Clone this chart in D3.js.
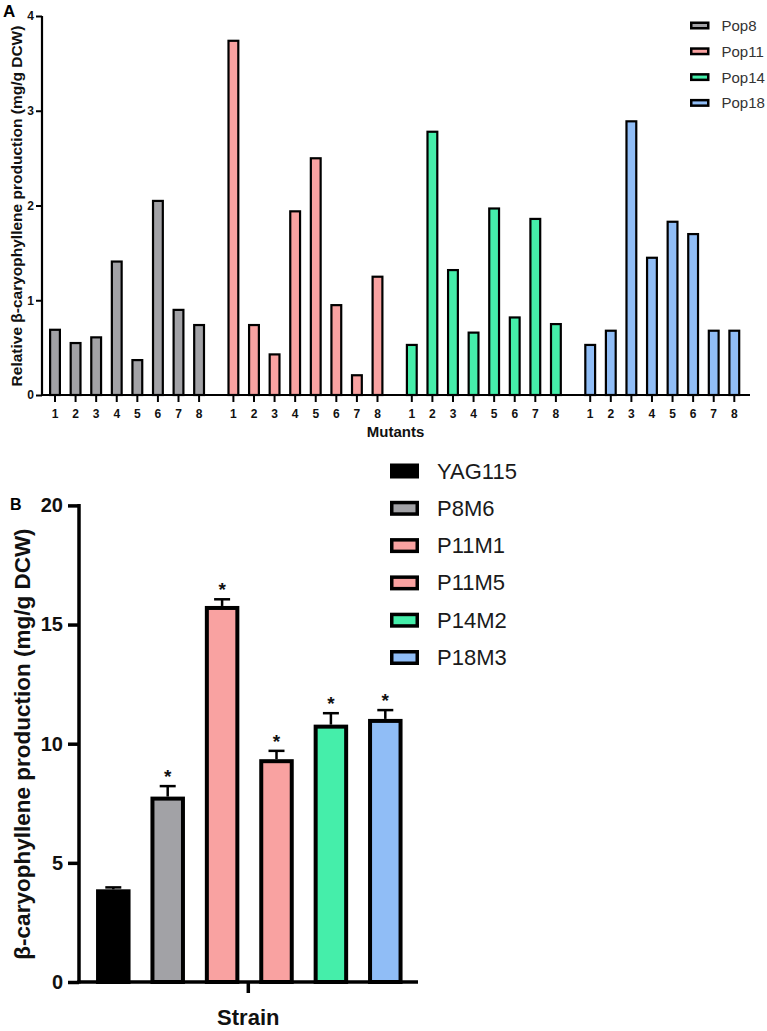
<!DOCTYPE html>
<html>
<head>
<meta charset="utf-8">
<script src="https://cdn.jsdelivr.net/npm/d3@7"></script>
<style>
  html, body { margin: 0; padding: 0; background: #fff; }
  svg { display: block; }
  text { font-family: "Liberation Sans", Arial, Helvetica, sans-serif; }
</style>
</head>
<body>
<svg id="chart" width="767" height="1031"></svg>
<script>
// ---------- Panel A data ----------
const mutantLabels = ["1", "2", "3", "4", "5", "6", "7", "8"];
const populations = ["Pop8", "Pop11", "Pop14", "Pop18"];
const pop8 = [0.70, 0.56, 0.62, 1.42, 0.38, 2.06, 0.91, 0.75];
const pop11 = [3.75, 0.75, 0.44, 1.95, 2.51, 0.96, 0.22, 1.26];
const pop14 = [0.54, 2.79, 1.33, 0.67, 1.98, 0.83, 1.87, 0.76];
const pop18 = [0.54, 0.69, 2.90, 1.46, 1.84, 1.71, 0.69, 0.69];
const popColors = ["#a2a2a6", "#f9a2a1", "#45eeaa", "#90bdf6"];
const yTicksA = [0, 1, 2, 3, 4];

// ---------- Panel B data ----------
const strains = ["YAG115", "P8M6", "P11M1", "P11M5", "P14M2", "P18M3"];
const strainMeans = [3.89, 7.78, 15.78, 9.35, 10.80, 11.04];
const strainErrors = [0.08, 0.44, 0.28, 0.35, 0.48, 0.37];
const strainSignif = ["", "*", "*", "*", "*", "*"];
const strainColors = ["#000000", "#a2a2a6", "#f9a2a1", "#f9a2a1", "#45eeaa", "#90bdf6"];
const yTicksB = [0, 5, 10, 15, 20];

const svg = d3.select("#chart");
svg.append("rect").attr("width", 767).attr("height", 1031).attr("fill", "#fff");

// ================= PANEL A =================
const seriesA = [pop8, pop11, pop14, pop18];
const groupGap = 0.667;
const slotOf = (g, i) => g * (mutantLabels.length + groupGap) + i;
const xA = d3.scaleLinear().domain([0, slotOf(3, 7)]).range([55, 734.3]);
const yA = d3.scaleLinear().domain([0, 4]).range([395, 16]);

const gA = svg.append("g");
const barWA = 9.8;

seriesA.forEach((vals, g) => {
  gA.append("g").selectAll("rect").data(vals).join("rect")
    .attr("x", (d, i) => xA(slotOf(g, i)) - barWA / 2)
    .attr("y", d => yA(d) + 1.1)
    .attr("width", barWA)
    .attr("height", d => yA(0) - yA(d) - 1.1)
    .attr("fill", popColors[g])
    .attr("stroke", "#000")
    .attr("stroke-width", 2.2);
});

// y axis A
const yAxisA = d3.axisLeft(yA).tickValues(yTicksA).tickSize(6).tickFormat(d3.format("d"));
const gyA = gA.append("g").attr("transform", "translate(42,0)").call(yAxisA);
gyA.select(".domain").attr("stroke", "#000").attr("stroke-width", 2.2).attr("d", `M0,${yA(4)}V${yA(0)}`);
gyA.selectAll(".tick line").attr("stroke", "#000").attr("stroke-width", 2);
gyA.selectAll(".tick text").attr("x", -8).attr("font-size", 12).attr("font-weight", "bold").attr("fill", "#111");

// x axis A
gA.append("line").attr("x1", 41).attr("x2", 750).attr("y1", yA(0)).attr("y2", yA(0))
  .attr("stroke", "#000").attr("stroke-width", 2.2);
seriesA.forEach((vals, g) => {
  const gt = gA.append("g");
  mutantLabels.forEach((lab, i) => {
    const x = xA(slotOf(g, i));
    gt.append("line").attr("x1", x).attr("x2", x).attr("y1", yA(0)).attr("y2", yA(0) + 7)
      .attr("stroke", "#000").attr("stroke-width", 2);
    gt.append("text").attr("x", x).attr("y", 418).attr("text-anchor", "middle")
      .attr("font-size", 12).attr("font-weight", "bold").attr("fill", "#111").text(lab);
  });
});

gA.append("text").attr("x", 395.5).attr("y", 437).attr("text-anchor", "middle")
  .attr("font-size", 15).attr("font-weight", "bold").attr("fill", "#111").text("Mutants");

gA.append("text").attr("transform", "translate(16,206) rotate(-90)")
  .attr("text-anchor", "middle").attr("dominant-baseline", "central")
  .attr("font-size", 15.5).attr("font-weight", "bold").attr("fill", "#111")
  .text("Relative β-caryophyllene production (mg/g DCW)");

gA.append("text").attr("x", 3).attr("y", 17).attr("font-size", 17).attr("font-weight", "bold")
  .attr("fill", "#000").text("A");

// legend A
const legA = gA.append("g");
populations.forEach((p, k) => {
  const cy = 25.5 + k * 25.8;
  legA.append("rect").attr("x", 691.25).attr("y", cy - 2.75).attr("width", 17).attr("height", 5.5)
    .attr("fill", popColors[k]).attr("stroke", "#000").attr("stroke-width", 2.5);
  legA.append("text").attr("x", 721.5).attr("y", cy).attr("dominant-baseline", "central")
    .attr("font-size", 15).attr("fill", "#333").text(p);
});

// ================= PANEL B =================
const gB = svg.append("g");
const xB = d3.scalePoint().domain(strains).range([113.3, 385.3]);
const yB = d3.scaleLinear().domain([0, 20]).range([982, 505.4]);
const barWB = 30.5;

gB.selectAll("line.err").data(strains).join("line").attr("class", "err")
  .attr("x1", d => xB(d)).attr("x2", d => xB(d))
  .attr("y1", (d, i) => yB(strainMeans[i]))
  .attr("y2", (d, i) => yB(strainMeans[i] + strainErrors[i]))
  .attr("stroke", "#000").attr("stroke-width", 2.5);
gB.selectAll("line.cap").data(strains).join("line").attr("class", "cap")
  .attr("x1", d => xB(d) - 8).attr("x2", d => xB(d) + 8)
  .attr("y1", (d, i) => yB(strainMeans[i] + strainErrors[i]))
  .attr("y2", (d, i) => yB(strainMeans[i] + strainErrors[i]))
  .attr("stroke", "#000").attr("stroke-width", 2.5);

gB.selectAll("rect.bar").data(strains).join("rect").attr("class", "bar")
  .attr("x", d => xB(d) - barWB / 2)
  .attr("y", (d, i) => yB(strainMeans[i]) + 2)
  .attr("width", barWB)
  .attr("height", (d, i) => yB(0) - yB(strainMeans[i]) - 2)
  .attr("fill", (d, i) => strainColors[i])
  .attr("stroke", "#000").attr("stroke-width", 4);

gB.selectAll("text.sig").data(strains).join("text").attr("class", "sig")
  .attr("x", d => xB(d))
  .attr("y", (d, i) => yB(strainMeans[i] + strainErrors[i]) - 3)
  .attr("text-anchor", "middle").attr("font-size", 19).attr("font-weight", "bold").attr("fill", "#111")
  .text((d, i) => strainSignif[i]);

// y axis B
const yAxisB = d3.axisLeft(yB).tickValues(yTicksB).tickSize(11).tickFormat(d3.format("d"));
const gyB = gB.append("g").attr("transform", "translate(79,0)").call(yAxisB);
gyB.select(".domain").attr("stroke", "#000").attr("stroke-width", 3.5).attr("d", `M0,${yB(20) - 1.5}V${yB(0) + 1.5}`);
gyB.selectAll(".tick line").attr("stroke", "#000").attr("stroke-width", 3.5);
gyB.selectAll(".tick text").attr("x", -16).attr("font-size", 20).attr("font-weight", "bold").attr("fill", "#111");

// x axis B
gB.append("line").attr("x1", 77.25).attr("x2", 418).attr("y1", yB(0)).attr("y2", yB(0))
  .attr("stroke", "#000").attr("stroke-width", 3.5);
gB.append("line").attr("x1", 248.3).attr("x2", 248.3).attr("y1", yB(0)).attr("y2", yB(0) + 11)
  .attr("stroke", "#000").attr("stroke-width", 3.5);
gB.append("text").attr("x", 248.3).attr("y", 1025).attr("text-anchor", "middle")
  .attr("font-size", 22).attr("font-weight", "bold").attr("fill", "#111").text("Strain");

gB.append("text").attr("transform", "translate(22,744) rotate(-90)")
  .attr("text-anchor", "middle").attr("dominant-baseline", "central")
  .attr("font-size", 22.5).attr("font-weight", "bold").attr("fill", "#111")
  .text("β-caryophyllene production (mg/g DCW)");

gB.append("text").attr("x", 10).attr("y", 510).attr("font-size", 16).attr("font-weight", "bold")
  .attr("fill", "#000").text("B");

// legend B
const legB = gB.append("g");
strains.forEach((s, k) => {
  const cy = 471 + k * 37.3;
  legB.append("rect").attr("x", 391.75).attr("y", cy - 5.75).attr("width", 25.5).attr("height", 11.5)
    .attr("fill", strainColors[k]).attr("stroke", "#000").attr("stroke-width", 3.5);
  legB.append("text").attr("x", 437).attr("y", cy).attr("dominant-baseline", "central")
    .attr("font-size", 22).attr("fill", "#1a1a1a").text(s);
});
</script>
</body>
</html>
